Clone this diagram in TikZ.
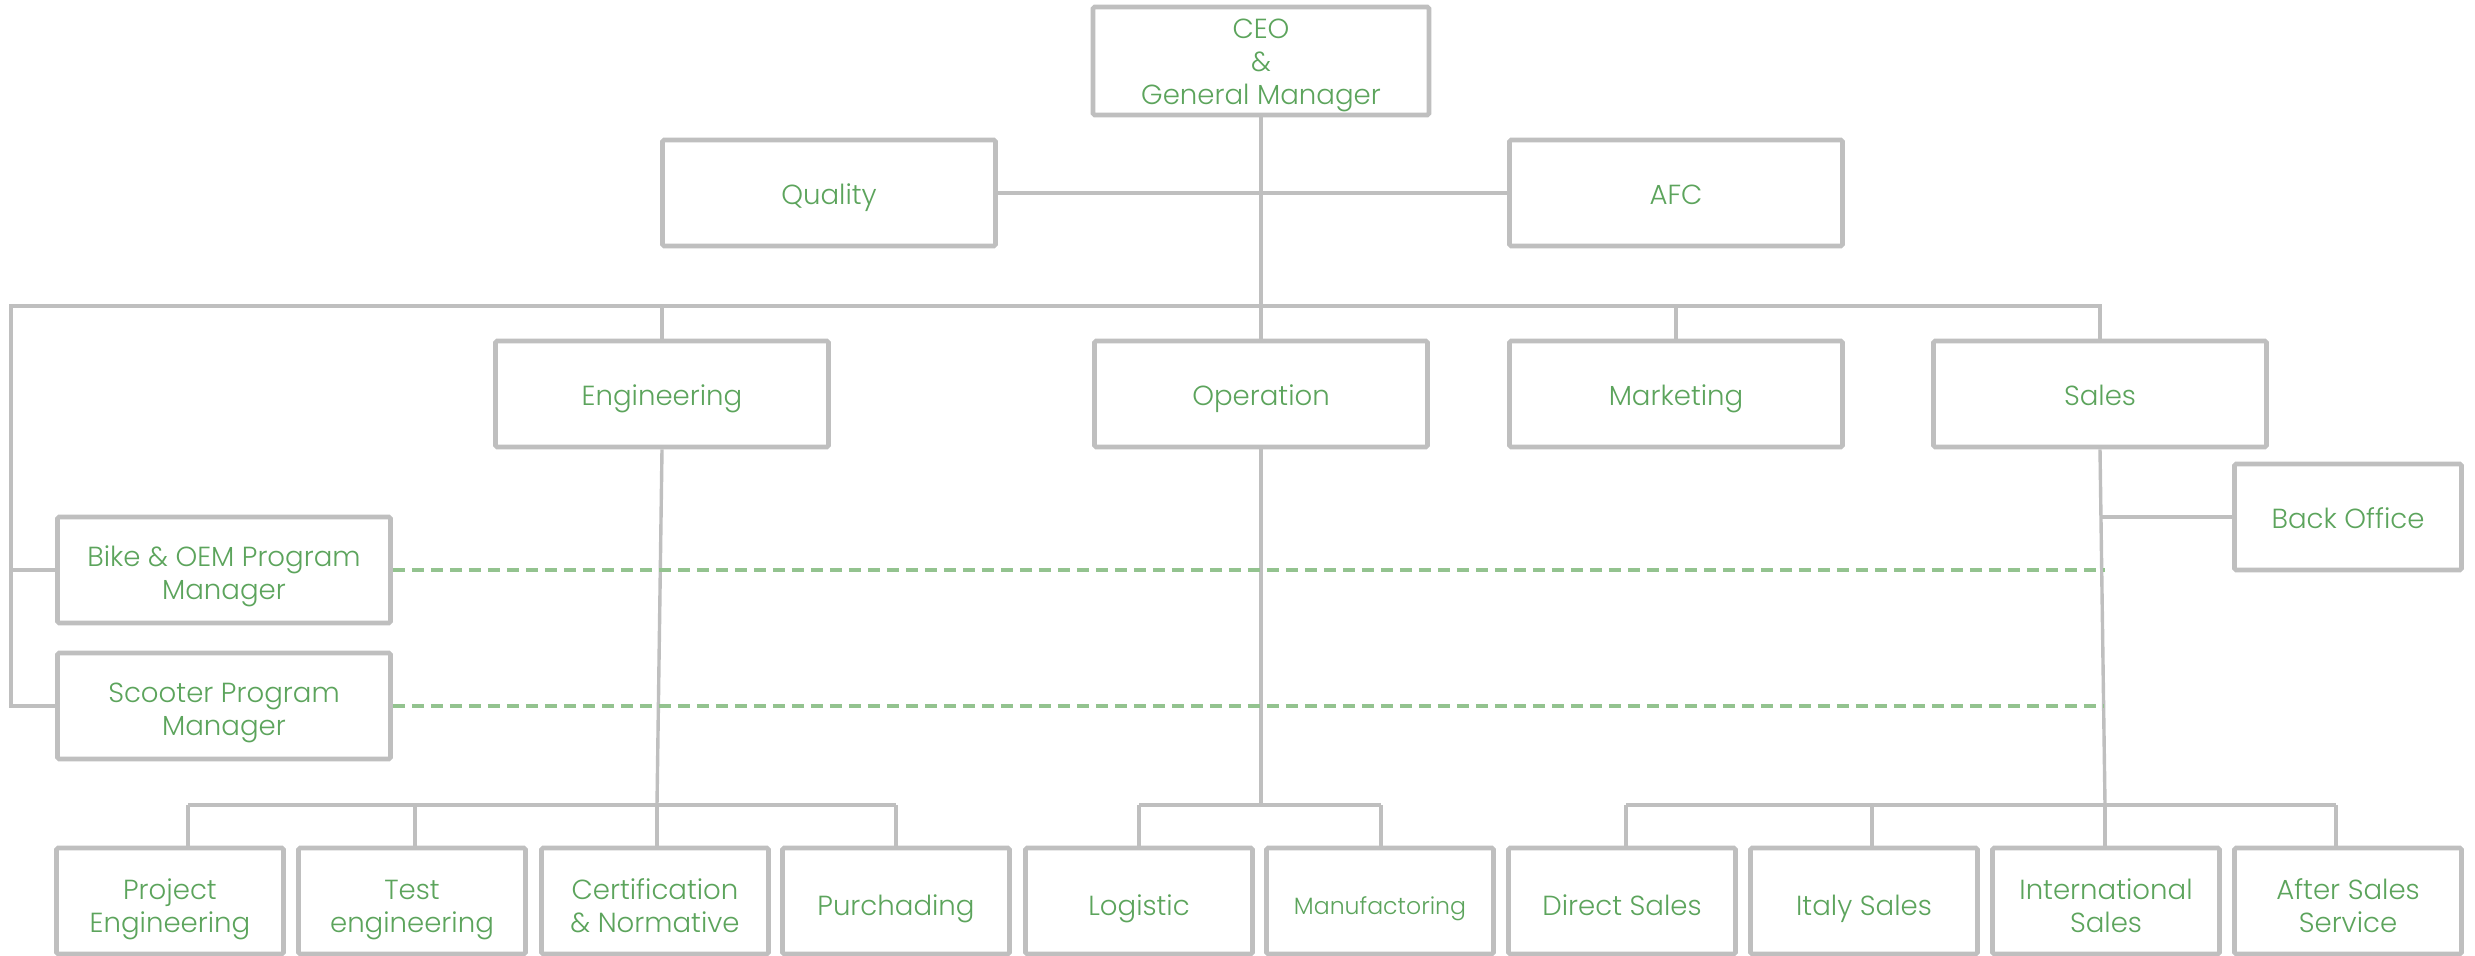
\documentclass[tikz,border=0pt]{standalone}
\usepackage{fontspec}
\setmainfont{Poppins}[UprightFont={* Light}]
\definecolor{linegray}{RGB}{191,191,191}
\definecolor{txtgreen}{RGB}{92,164,92}
\definecolor{dashgreen}{RGB}{147,195,143}
\newcommand{\boxlbl}[2][-2.5pt]{\raisebox{#1}[\height][\depth]{\begin{tabular}{@{}c@{}}#2\end{tabular}}}
\tikzset{
  box/.style={draw=linegray, line width=2.3pt, fill=white, rectangle, rounded corners=0.8pt,
    text=txtgreen, font=\fontsize{13.8}{16.5}\selectfont, inner sep=0pt},
  bigbox/.style={box, minimum width=166.5pt, minimum height=53pt},
  smallbox/.style={box, minimum width=113.5pt, minimum height=53pt},
  conn/.style={draw=linegray, line width=1.7pt},
  dotconn/.style={draw=dashgreen, line width=2pt, dash pattern=on 6pt off 3.5pt}
}
\begin{document}
\begin{tikzpicture}[x=0.5pt,y=-0.5pt]
\useasboundingbox (0,0) rectangle (2475,956);
% top level
\node[bigbox, minimum width=168pt, minimum height=54pt] (ceo) at (1261,61) {\boxlbl[-2pt]{CEO\\\&\\General Manager}};
\node[bigbox] (quality) at (829,193) {\boxlbl{Quality}};
\node[bigbox] (afc) at (1676,193) {\boxlbl{AFC}};
% second level
\node[bigbox] (eng) at (662,394) {\boxlbl{Engineering}};
\node[bigbox] (op) at (1261,394) {\boxlbl{Operation}};
\node[bigbox] (mkt) at (1676,394) {\boxlbl{Marketing}};
\node[bigbox] (sales) at (2100,394) {\boxlbl{Sales}};
\node[smallbox] (back) at (2348,517) {\boxlbl{Back Office}};
\node[bigbox] (bike) at (224,570) {\boxlbl[-3pt]{Bike \& OEM Program\\Manager}};
\node[bigbox] (scoot) at (224,706) {\boxlbl[-3pt]{Scooter Program\\Manager}};
% bottom level
\node[smallbox] (proj) at (170,901) {\boxlbl[-4pt]{Project\\Engineering}};
\node[smallbox] (test) at (412,901) {\boxlbl[-4pt]{Test\\engineering}};
\node[smallbox] (cert) at (655,901) {\boxlbl[-4pt]{Certification\\\& Normative}};
\node[smallbox] (purch) at (896,901) {\boxlbl[-4pt]{Purchading}};
\node[smallbox] (logi) at (1139,901) {\boxlbl[-4pt]{Logistic}};
\node[smallbox, font=\fontsize{11.8}{14}\selectfont] (manu) at (1380,901) {\boxlbl[-4pt]{Manufactoring}};
\node[smallbox] (direct) at (1622,901) {\boxlbl[-4pt]{Direct Sales}};
\node[smallbox] (italy) at (1864,901) {\boxlbl[-4pt]{Italy Sales}};
\node[smallbox] (intl) at (2106,901) {\boxlbl[-4pt]{International\\Sales}};
\node[smallbox] (after) at (2348,901) {\boxlbl[-4pt]{After Sales\\Service}};

% coordinates
\coordinate (busL) at (11,306);
\coordinate (eL) at (188,805);
\coordinate (eT) at (415,805);
\coordinate (eC) at (657,805);
\coordinate (eR) at (896,805);
\coordinate (oL) at (1139,805);
\coordinate (oM) at (1261,805);
\coordinate (oR) at (1381,805);
\coordinate (sL) at (1626,805);
\coordinate (sI) at (1872,805);
\coordinate (sM) at (2105,805);
\coordinate (sR) at (2336,805);
\coordinate (sBO) at (2102,517);
\coordinate (dB) at (2105,570);
\coordinate (dS) at (2103,706);

% top connectors
\draw[conn] (ceo.south) -- (op.north);
\draw[conn] (quality.east) -- (afc.west);
\draw[conn] (scoot.west) -| (busL) -| (sales.north);
\draw[conn] (bike.west) -- (bike.west -| busL);
\draw[conn] (eng.north) -- (eng.north |- busL);
\draw[conn] (mkt.north) -- (mkt.north |- busL);
% engineering
\draw[conn] (eng.south) -- (eC);
\draw[conn] (eL) -- (eR);
\draw[conn] (eL) -- (eL |- proj.north);
\draw[conn] (eT) -- (eT |- test.north);
\draw[conn] (eC) -- (eC |- cert.north);
\draw[conn] (eR) -- (eR |- purch.north);
% operation
\draw[conn] (op.south) -- (oM);
\draw[conn] (oL) -- (oR);
\draw[conn] (oL) -- (oL |- logi.north);
\draw[conn] (oR) -- (oR |- manu.north);
% sales
\draw[conn] (sales.south) -- (sM);
\draw[conn] (sL) -- (sR);
\draw[conn] (sL) -- (sL |- direct.north);
\draw[conn] (sI) -- (sI |- italy.north);
\draw[conn] (sM) -- (sM |- intl.north);
\draw[conn] (sR) -- (sR |- after.north);
\draw[conn] (sBO) -- (back.west);
% dotted-line relations
\draw[dotconn] (bike.east) -- (dB);
\draw[dotconn] (scoot.east) -- (dS);
\end{tikzpicture}
\end{document}
